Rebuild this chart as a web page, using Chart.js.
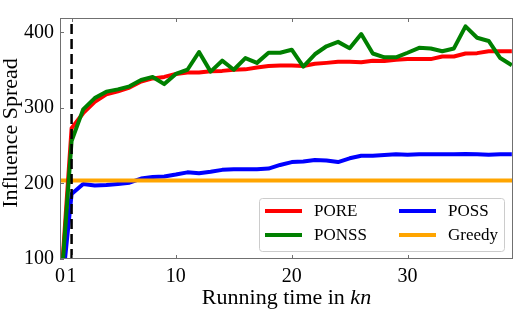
<!DOCTYPE html>
<html>
<head>
<meta charset="utf-8">
<script src="https://cdn.jsdelivr.net/npm/chart.js@4.4.1/dist/chart.umd.min.js"></script>
<style>
	html, body { margin: 0; padding: 0; background: #fff; }
	canvas { display: block; }
</style>
</head>
<body>
<canvas id="chart" width="515" height="309"></canvas>
<script>
// running time steps (in kn)
const steps = [0, 1, 2, 3, 4, 5, 6, 7, 8, 9, 10, 11, 12, 13, 14, 15, 16, 17, 18, 19,
	20, 21, 22, 23, 24, 25, 26, 27, 28, 29, 30, 31, 32, 33, 34, 35, 36, 37, 38, 39];

const pore = [48, 273, 293, 308, 318, 322, 327, 335, 339, 341, 345, 347, 347, 348.5, 349, 350.5, 351, 353.5, 355.5, 356,
	356, 355.5, 358.4, 359.6, 361, 361, 360.5, 362.5, 362, 363.7, 364.6, 364.6, 364.6, 368, 368, 372, 372.5, 375, 375, 375];

const ponss = [45, 256, 298, 313, 321.5, 324.5, 328.5, 337, 341, 331.5, 345, 350.5, 374, 348, 362.5, 350.5, 366, 359.6, 373, 373,
	377, 354.7, 371, 381.6, 387.4, 379, 397.7, 372, 367, 367, 373, 379.5, 378.7, 375, 378.7, 408, 392.8, 388.6, 366, 356.4];

const poss = [35, 186, 199.4, 197.3, 198, 199.4, 201, 206.5, 208.5, 209.3, 211.8, 214.7, 213.4, 215.5, 218, 218.9, 218.9, 218.9, 219.7, 224.5,
	228.3, 229, 231, 230.4, 228.3, 233.3, 236.6, 236.6, 237.5, 238.7, 237.9, 238.7, 238.7, 238.5, 238.7, 239.1, 238.5, 237.9, 238.7, 238.7];

const greedyLevel = 204;
const markerX = 1;

const xMin = 0, xMax = 39.1;
const yMin = 100, yMax = 419;
const xTicks = [0, 1, 10, 20, 30];
const yTicks = [100, 200, 300, 400];

const serif = "'Liberation Serif', 'Times New Roman', serif";
const frameColor = "#707070";

function pts(values) {
	return steps.map((s, i) => ({ x: s, y: values[i] }));
}

const legendItems = [
	{ label: "PORE", color: "#ff0000", col: 0, row: 0 },
	{ label: "PONSS", color: "#008000", col: 0, row: 1 },
	{ label: "POSS", color: "#0000ff", col: 1, row: 0 },
	{ label: "Greedy", color: "#ffa500", col: 1, row: 1 }
];

const lineStyle = {
	borderWidth: 4,
	pointRadius: 0,
	tension: 0,
	fill: false,
	clip: 0,
	borderJoinStyle: "round",
	borderCapStyle: "butt"
};

// frame, inward ticks, axis titles and legend
const decorPlugin = {
	id: "decor",
	afterDraw(chart) {
		const ctx = chart.ctx;
		const a = chart.chartArea;
		const sx = chart.scales.x, sy = chart.scales.y;
		ctx.save();

		ctx.strokeStyle = frameColor;
		ctx.lineWidth = 1;
		ctx.strokeRect(a.left + 0.5, a.top + 0.5, a.right - a.left - 1, a.bottom - a.top - 1);

		ctx.beginPath();
		for (const v of xTicks) {
			const px = Math.round(sx.getPixelForValue(v)) + 0.5;
			ctx.moveTo(px, a.bottom);
			ctx.lineTo(px, a.bottom - 4);
			ctx.moveTo(px, a.top);
			ctx.lineTo(px, a.top + 4);
		}
		for (const v of yTicks) {
			const py = Math.round(sy.getPixelForValue(v)) + 0.5;
			ctx.moveTo(a.left, py);
			ctx.lineTo(a.left + 4, py);
		}
		ctx.stroke();

		// x title with italic "kn"
		ctx.fillStyle = "#000";
		ctx.textBaseline = "alphabetic";
		const part1 = "Running time in ";
		const part2 = "kn";
		ctx.font = "22px " + serif;
		const w1 = ctx.measureText(part1).width;
		ctx.font = "italic 22px " + serif;
		const w2 = ctx.measureText(part2).width;
		const cx = (a.left + a.right) / 2;
		const startX = cx - (w1 + w2) / 2;
		ctx.font = "22px " + serif;
		ctx.textAlign = "left";
		ctx.fillText(part1, startX, 304);
		ctx.font = "italic 22px " + serif;
		ctx.fillText(part2, startX + w1, 304);

		// y title
		ctx.save();
		ctx.translate(17, 133);
		ctx.rotate(-Math.PI / 2);
		ctx.font = "22px " + serif;
		ctx.textAlign = "center";
		ctx.fillText("Influence Spread", 0, 0);
		ctx.restore();

		// legend box
		const bx = 259, by = 198, bw = 245, bh = 53;
		ctx.beginPath();
		ctx.roundRect(bx + 0.5, by + 0.5, bw, bh, 3);
		ctx.fillStyle = "rgba(255,255,255,0.8)";
		ctx.fill();
		ctx.strokeStyle = "#cccccc";
		ctx.lineWidth = 1;
		ctx.stroke();

		ctx.font = "17px " + serif;
		ctx.textAlign = "left";
		ctx.textBaseline = "middle";
		for (const it of legendItems) {
			const lx = it.col === 0 ? 265 : 399;
			const ly = it.row === 0 ? 211 : 235;
			ctx.strokeStyle = it.color;
			ctx.lineWidth = 4;
			ctx.beginPath();
			ctx.moveTo(lx, ly);
			ctx.lineTo(lx + 37, ly);
			ctx.stroke();
			ctx.fillStyle = "#000";
			ctx.fillText(it.label, lx + 49, ly + 1);
		}
		ctx.restore();
	}
};

new Chart(document.getElementById("chart"), {
	type: "line",
	data: {
		datasets: [
			{
				label: "marker",
				data: [{ x: markerX, y: yMin }, { x: markerX, y: yMax }],
				borderColor: "#000000",
				borderWidth: 2.5,
				borderDash: [10, 5],
				pointRadius: 0,
				clip: 0
			},
			{ label: "PONSS", data: pts(ponss), borderColor: "#008000", ...lineStyle },
			{ label: "PORE", data: pts(pore), borderColor: "#ff0000", ...lineStyle },
			{ label: "Greedy", data: [{ x: xMin, y: greedyLevel }, { x: xMax, y: greedyLevel }], borderColor: "#ffa500", ...lineStyle },
			{ label: "POSS", data: pts(poss), borderColor: "#0000ff", ...lineStyle }
		]
	},
	options: {
		responsive: false,
		animation: false,
		events: [],
		layout: { padding: { top: 2, right: 2, left: 0, bottom: 0 } },
		plugins: {
			legend: { display: false },
			tooltip: { enabled: false }
		},
		scales: {
			x: {
				type: "linear",
				min: xMin,
				max: xMax,
				grid: { display: false, drawTicks: false },
				border: { display: false },
				afterBuildTicks: (s) => { s.ticks = xTicks.map((v) => ({ value: v })); },
				afterFit: (s) => { s.height = 50; },
				ticks: {
					autoSkip: false,
					maxRotation: 0,
					padding: 6,
					color: "#000",
					font: { family: serif, size: 20 },
					callback: (v) => String(v)
				}
			},
			y: {
				type: "linear",
				min: yMin,
				max: yMax,
				grid: { display: false, drawTicks: false },
				border: { display: false },
				afterBuildTicks: (s) => { s.ticks = yTicks.map((v) => ({ value: v })); },
				afterFit: (s) => { s.width = 60; },
				ticks: {
					padding: 6,
					color: "#000",
					font: { family: serif, size: 20 },
					callback: (v) => String(v)
				}
			}
		}
	},
	plugins: [decorPlugin]
});
</script>
</body>
</html>
